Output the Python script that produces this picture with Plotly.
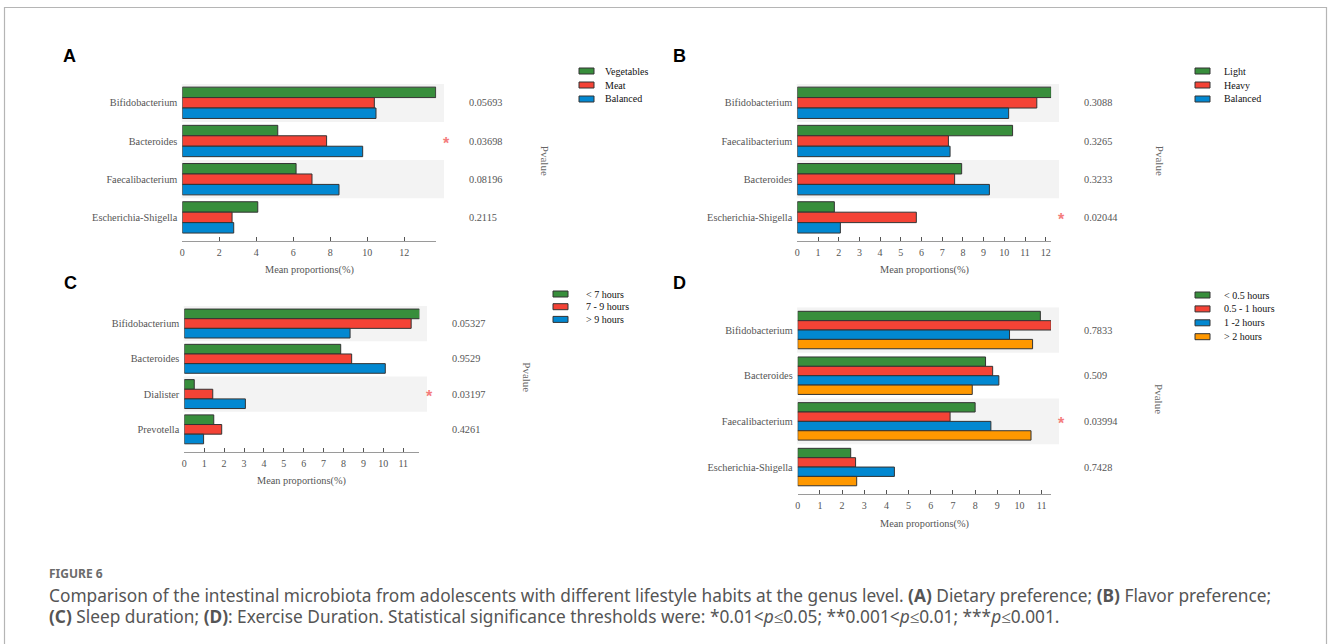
import plotly.graph_objects as go

W, H = 1328, 644

# ---------------- data ----------------
genera_A = ["Bifidobacterium", "Bacteroides", "Faecalibacterium", "Escherichia-Shigella"]
groups_A = ["Vegetables", "Meat", "Balanced"]
veg_A = [13.70, 5.16, 6.15, 4.08]
meat_A = [10.38, 7.80, 7.01, 2.69]
bal_A = [10.47, 9.75, 8.47, 2.78]
pval_A = ["0.05693", "0.03698", "0.08196", "0.2115"]

genera_B = ["Bifidobacterium", "Faecalibacterium", "Bacteroides", "Escherichia-Shigella"]
groups_B = ["Light", "Heavy", "Balanced"]
light_B = [12.27, 10.40, 7.94, 1.79]
heavy_B = [11.57, 7.30, 7.60, 5.75]
bal_B = [10.21, 7.38, 9.28, 2.08]
pval_B = ["0.3088", "0.3265", "0.3233", "0.02044"]

genera_C = ["Bifidobacterium", "Bacteroides", "Dialister", "Prevotella"]
groups_C = ["< 7 hours", "7 - 9 hours", "> 9 hours"]
lt7_C = [11.83, 7.86, 0.50, 1.48]
mid_C = [11.40, 8.41, 1.43, 1.88]
gt9_C = [8.33, 10.10, 3.07, 0.97]
pval_C = ["0.05327", "0.9529", "0.03197", "0.4261"]

genera_D = ["Bifidobacterium", "Bacteroides", "Faecalibacterium", "Escherichia-Shigella"]
groups_D = ["< 0.5 hours", "0.5 - 1 hours", "1 -2 hours", "> 2 hours"]
lt05_D = [10.94, 8.47, 8.00, 2.39]
h05_1_D = [11.43, 8.79, 6.87, 2.61]
h1_2_D = [9.55, 9.07, 8.71, 4.36]
gt2_D = [10.59, 7.87, 10.52, 2.66]
pval_D = ["0.7833", "0.509", "0.03994", "0.7428"]

colors = ["#388E3C", "#F44336", "#0288D1", "#FF9800"]

# ---------------- layout geometry (pixels) ----------------
panels = [
    dict(letter="A", genera=genera_A, groups=groups_A, series=[veg_A, meat_A, bal_A], pvals=pval_A,
         x0=182.3, ppu=18.5, xmax=13.73, dtick=2, ytop=83.7, slot=38.2, axis_y=241,
         band_end=444, letter_xy=(61, 56), leg_x=579, leg_tx=603, leg_y=71, leg_dy=14),
    dict(letter="B", genera=genera_B, groups=groups_B, series=[light_B, heavy_B, bal_B], pvals=pval_B,
         x0=797.3, ppu=20.7, xmax=12.26, dtick=1, ytop=83.7, slot=38.2, axis_y=241,
         band_end=1059, letter_xy=(671, 56), leg_x=1195, leg_tx=1222, leg_y=71, leg_dy=14),
    dict(letter="C", genera=genera_C, groups=groups_C, series=[lt7_C, mid_C, gt9_C], pvals=pval_C,
         x0=184.3, ppu=19.9, xmax=11.81, dtick=1, ytop=305.9, slot=35.27, axis_y=451.7,
         band_end=427, letter_xy=(62, 283), leg_x=553, leg_tx=584, leg_y=294, leg_dy=12.7),
    dict(letter="D", genera=genera_D, groups=groups_D, series=[lt05_D, h05_1_D, h1_2_D, gt2_D], pvals=pval_D,
         x0=797.7, ppu=22.18, xmax=11.42, dtick=1, ytop=307.2, slot=45.67, axis_y=494,
         band_end=1059, letter_xy=(671, 283), leg_x=1195, leg_tx=1222, leg_y=295, leg_dy=13.9),
]

def px(x):
    return x / W

def py(y):
    return 1 - y / H

SMALL = "Liberation Serif"
SERIF = "Liberation Serif"
TXT = "#555555"

fig = go.Figure()
shapes = []
annotations = []
layout = {}

for i, p in enumerate(panels, start=1):
    xa = "x" if i == 1 else f"x{i}"
    ya = "y" if i == 1 else f"y{i}"
    n = len(p["genera"])
    x1 = p["x0"] + p["xmax"] * p["ppu"]
    ybottom_val = (n - 0.5) + (p["axis_y"] - (p["ytop"] + n * p["slot"])) / p["slot"]

    for k, (g, vals) in enumerate(zip(p["groups"], p["series"])):
        fig.add_trace(go.Bar(
            x=vals, y=p["genera"], name=g, orientation="h",
            marker=dict(color=colors[k], line=dict(color="#333333", width=1)),
            xaxis=xa, yaxis=ya, showlegend=False,
            hovertemplate="%{y}<br>" + g + ": %{x}%<extra></extra>",
        ))

    ticks = list(range(0, int(p["xmax"]) + 1, p["dtick"]))
    layout["xaxis" if i == 1 else f"xaxis{i}"] = dict(
        domain=[px(p["x0"]), px(x1)], anchor=ya, range=[0, p["xmax"]],
        showline=True, linecolor="#9a9a9a", linewidth=1, mirror=False,
        ticks="inside", ticklen=4, tickcolor="#555555", tickwidth=1,
        tickvals=ticks + [p["xmax"]], ticktext=[str(t) for t in ticks] + [""],
        tickfont=dict(family=SMALL, size=10, color=TXT),
        ticklabelstandoff=2, showgrid=False, zeroline=False, fixedrange=True,
    )
    layout["yaxis" if i == 1 else f"yaxis{i}"] = dict(
        domain=[py(p["axis_y"]), py(p["ytop"])], anchor=xa, type="category",
        categoryorder="array", categoryarray=p["genera"],
        range=[ybottom_val, -0.5], showline=False, ticks="", showgrid=False,
        zeroline=False, tickfont=dict(family=SMALL, size=10.3, color=TXT),
        ticklabelstandoff=4, fixedrange=True,
    )

    # alternating grey bands
    for j in range(0, n, 2):
        shapes.append(dict(type="rect", xref="paper", yref=ya,
                           x0=px(p["x0"] - 0.6), x1=px(p["band_end"]), y0=j - 0.5, y1=j + 0.5,
                           fillcolor="#f3f3f3", line=dict(width=0), layer="below"))

    # p-values and significance stars
    for j, (g, pv) in enumerate(zip(p["genera"], p["pvals"])):
        annotations.append(dict(xref="paper", yref=ya, x=px(p["band_end"] + 22.7), y=j,
                                xanchor="left", yanchor="middle", text=pv, showarrow=False,
                                font=dict(family=SMALL, size=10.3, color=TXT)))
        if float(pv) < 0.05:
            annotations.append(dict(xref="paper", yref=ya, x=px(p["band_end"] + 2.8), y=j,
                                    xanchor="center", yanchor="middle", text="<b>*</b>", showarrow=False,
                                    yshift=-2,
                                    font=dict(family="Liberation Sans", size=16, color="#F47C7C")))

    # Pvalue rotated label
    annotations.append(dict(xref="paper", yref="paper", x=px(p["band_end"] + 100.5),
                            y=py((p["ytop"] + p["axis_y"]) / 2 - 2), text="Pvalue", textangle=90,
                            showarrow=False, xanchor="center", yanchor="middle",
                            font=dict(family=SERIF, size=11, color="#666666")))

    # axis title
    annotations.append(dict(xref="paper", yref="paper", x=px((p["x0"] + x1) / 2),
                            y=py(p["axis_y"] + 29.5), text="Mean proportions(%)", showarrow=False,
                            xanchor="center", yanchor="middle",
                            font=dict(family=SMALL, size=10.3, color=TXT)))

    # panel letter
    annotations.append(dict(xref="paper", yref="paper", x=px(p["letter_xy"][0]), y=py(p["letter_xy"][1]),
                            text=f"<b>{p['letter']}</b>", showarrow=False, xanchor="left",
                            yanchor="middle", font=dict(family="Liberation Sans", size=18, color="#000000")))

    # legend
    for k, g in enumerate(p["groups"]):
        yc = p["leg_y"] + k * p["leg_dy"]
        shapes.append(dict(type="rect", xref="paper", yref="paper",
                           x0=px(p["leg_x"]), x1=px(p["leg_x"] + 15), y0=py(yc - 3), y1=py(yc + 3),
                           fillcolor=colors[k], line=dict(color="#333333", width=1)))
        annotations.append(dict(xref="paper", yref="paper", x=px(p["leg_tx"]), y=py(yc),
                                text=g, showarrow=False, xanchor="left", yanchor="middle",
                                font=dict(family=SERIF, size=10, color="#111111")))

# figure frame
shapes.append(dict(type="rect", xref="paper", yref="paper", x0=px(4.5), x1=px(1326.5),
                   y0=py(7.5), y1=-0.1, line=dict(color="#b5b5b5", width=1.2), fillcolor="rgba(0,0,0,0)"))

# caption
CAP = "Noto Sans"
annotations.append(dict(xref="paper", yref="paper", x=px(47), y=py(573), xanchor="left", yanchor="middle",
                        text="<b>FIGURE 6</b>", showarrow=False,
                        font=dict(family=CAP, size=12, color="#6b6b6b")))
annotations.append(dict(xref="paper", yref="paper", x=px(47), y=py(595), xanchor="left", yanchor="middle",
                        text=("Comparison of the intestinal microbiota from adolescents with different lifestyle "
                              "habits at the genus level. <b>(A)</b> Dietary preference; <b>(B)</b> Flavor preference;"),
                        showarrow=False, font=dict(family=CAP, size=17.3, color="#555555")))
annotations.append(dict(xref="paper", yref="paper", x=px(47), y=py(616), xanchor="left", yanchor="middle",
                        text=("<b>(C)</b> Sleep duration; <b>(D)</b>: Exercise Duration. Statistical significance "
                              "thresholds were: *0.01&lt;<i>p</i>≤0.05; **0.001&lt;<i>p</i>≤0.01; ***<i>p</i>≤0.001."),
                        showarrow=False, font=dict(family=CAP, size=17.3, color="#555555")))

fig.update_layout(
    width=W, height=H, margin=dict(l=0, r=0, t=0, b=0, autoexpand=False),
    paper_bgcolor="white", plot_bgcolor="rgba(0,0,0,0)",
    barmode="group", bargap=0.18, bargroupgap=0,
    shapes=shapes, annotations=annotations, showlegend=False,
    **layout,
)

fig.write_html("out.html", config={"displayModeBar": False})
